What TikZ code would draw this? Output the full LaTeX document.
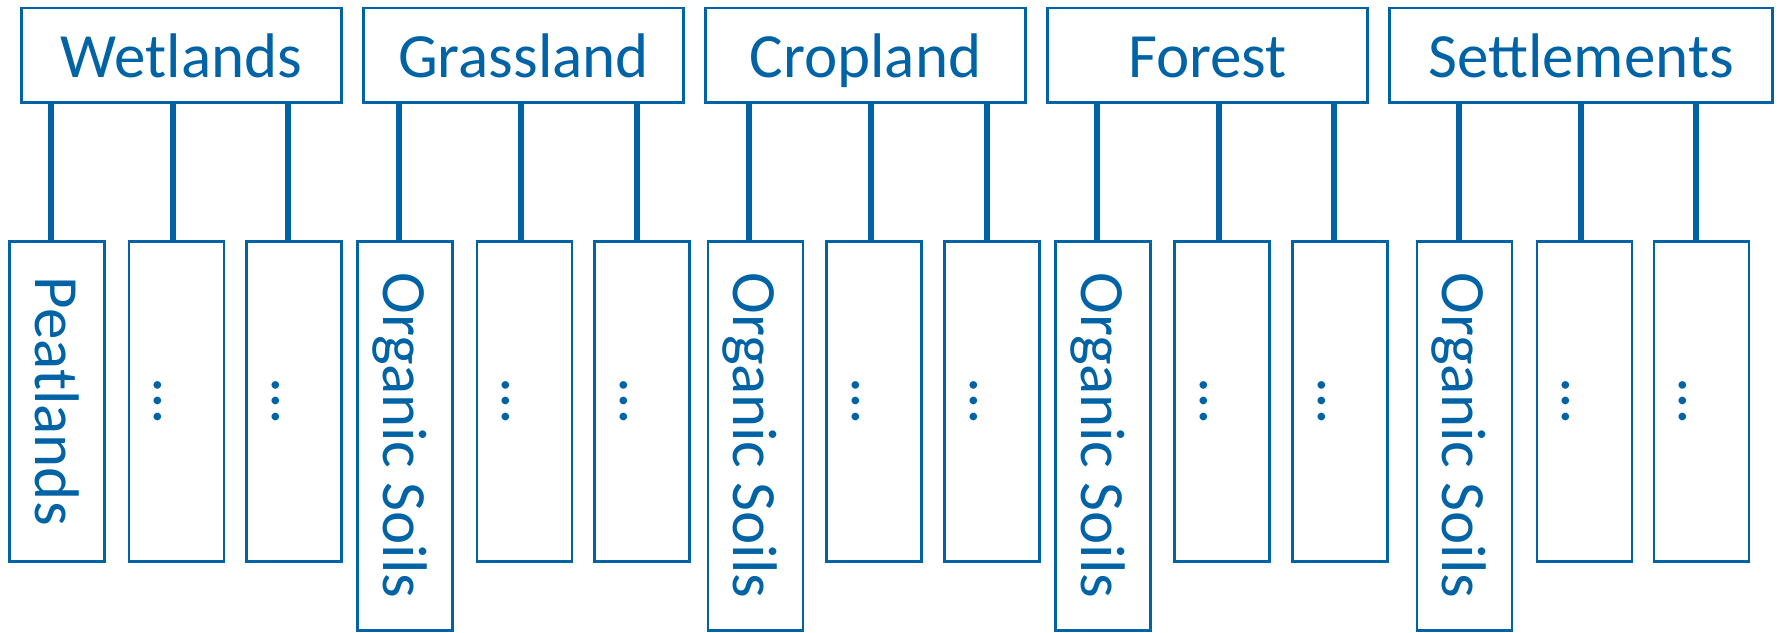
\documentclass[tikz,border=0pt]{standalone}
\usepackage{fontspec}
\newfontfamily\catfont{Carlito}
\definecolor{landblue}{RGB}{0,99,166}
\tikzset{
  box/.style={draw=landblue, line width=2.7pt, text=landblue, inner sep=0pt,
    font=\catfont\fontsize{63}{70}\selectfont, text height=44pt, text depth=0pt},
  catbox/.style={box, minimum width=#1, minimum height=94.3pt},
  subbox/.style={box, rotate=-90, minimum height=94.8pt, minimum width=319.8pt},
  tallbox/.style={box, rotate=-90, minimum height=94.8pt, minimum width=388.8pt},
  link/.style={draw=landblue, line width=5.5pt}
}
\begin{document}
\begin{tikzpicture}[x=1pt, y=-1pt]
\useasboundingbox (0,0) rectangle (1779,632);

% land-use categories
\node[catbox=320.3pt] (wet) at (181.5,55) {Wetlands};
\node[catbox=320.3pt] (gra) at (523.5,55) {Grassland};
\node[catbox=320.3pt] (cro) at (865.5,55) {Cropland};
\node[catbox=320.3pt] (for) at (1207.5,55) {Forest};
\node[catbox=383.3pt] (set) at (1581,55) {Settlements};

% sub-categories
\node[subbox]  (wet1) at (57,401.25)    {Peatlands};
\node[subbox]  (wet2) at (176.5,401.25) {…};
\node[subbox]  (wet3) at (294,401.25)   {…};

\node[tallbox] (gra1) at (405,435.75)   {Organic Soils};
\node[subbox]  (gra2) at (524.5,401.25) {…};
\node[subbox]  (gra3) at (642,401.25)   {…};

\node[tallbox] (cro1) at (755.5,435.75) {Organic Soils};
\node[subbox]  (cro2) at (874,401.25)   {…};
\node[subbox]  (cro3) at (992,401.25)   {…};

\node[tallbox] (for1) at (1103,435.75)  {Organic Soils};
\node[subbox]  (for2) at (1222,401.25)  {…};
\node[subbox]  (for3) at (1340,401.25)  {…};

\node[tallbox] (set1) at (1464.5,435.75) {Organic Soils};
\node[subbox]  (set2) at (1584.5,401.25) {…};
\node[subbox]  (set3) at (1701.5,401.25) {…};

% connectors (rotated boxes: west anchor is the top edge)
\foreach \p/\c/\x in {wet/wet1/51, wet/wet2/173, wet/wet3/288,
                      gra/gra1/399, gra/gra2/521, gra/gra3/637,
                      cro/cro1/749, cro/cro2/871, cro/cro3/987,
                      for/for1/1097, for/for2/1219, for/for3/1334,
                      set/set1/1459, set/set2/1581, set/set3/1696}
  \draw[link] (\p.south -| \x,0) -- (\c.west -| \x,0);
\end{tikzpicture}
\end{document}
